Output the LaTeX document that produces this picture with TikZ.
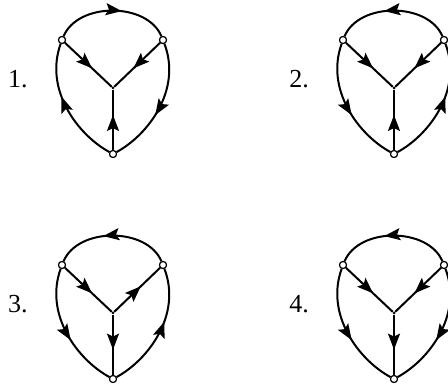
\documentclass[tikz,border=0pt]{standalone}
\usepackage{fontspec}
\setmainfont{Liberation Serif}
\usetikzlibrary{arrows.meta,decorations.markings}
\tikzset{
  edge/.style={line width=2pt},
  fwd/.style={postaction={decorate},decoration={markings,
      mark=at position 0.58 with {\arrow{Stealth[length=16pt,width=12pt,inset=3pt]}}}},
  bwd/.style={postaction={decorate},decoration={markings,
      mark=at position 0.42 with {\arrowreversed{Stealth[length=16pt,width=12pt,inset=3pt]}}}},
  vtx/.style={circle,draw,fill=white,line width=1.1pt,inner sep=0pt,minimum size=7pt},
  hub/.style={circle,fill,inner sep=0pt,minimum size=3pt},
  numlabel/.style={font=\fontsize{26}{30}\selectfont}
}
% #1 number, #2 shift, #3 top arc, #4 left arc, #5 right arc,
% #6 left spoke, #7 right spoke, #8 lower spoke
\newcommand{\petal}[8]{%
  \begin{scope}[shift={#2}]
    \node[numlabel] (lab#1) at (18,-79) {#1.};
    \node[vtx] (tl#1) at (62,-40) {};
    \node[vtx] (tr#1) at (163,-40) {};
    \node[hub] (c#1) at (113,-88) {};
    \node[vtx] (b#1) at (113,-154) {};
    \draw[edge,#3] (tl#1) .. controls (78,-2) and (147,-2) .. (tr#1);
    \draw[edge,#4] (tl#1) .. controls (44,-90) and (78,-135) .. (b#1);
    \draw[edge,#5] (tr#1) .. controls (182,-90) and (148,-135) .. (b#1);
    \draw[edge,#6] (tl#1) -- (c#1);
    \draw[edge,#7] (tr#1) -- (c#1);
    \draw[edge,#8] (b#1) -- (c#1);
    \node[vtx] at (tl#1) {};
    \node[vtx] at (tr#1) {};
    \node[vtx] at (b#1) {};
  \end{scope}}

\begin{document}
\begin{tikzpicture}[x=1pt,y=1pt]
  \useasboundingbox (0,0) rectangle (448,-385);
  \petal{1}{(0,0)}{fwd}{bwd}{fwd}{fwd}{fwd}{fwd}
  \petal{2}{(281,0)}{bwd}{fwd}{bwd}{fwd}{fwd}{fwd}
  \petal{3}{(0,-225)}{bwd}{fwd}{bwd}{fwd}{bwd}{bwd}
  \petal{4}{(281,-225)}{bwd}{fwd}{fwd}{fwd}{fwd}{bwd}
\end{tikzpicture}
\end{document}
